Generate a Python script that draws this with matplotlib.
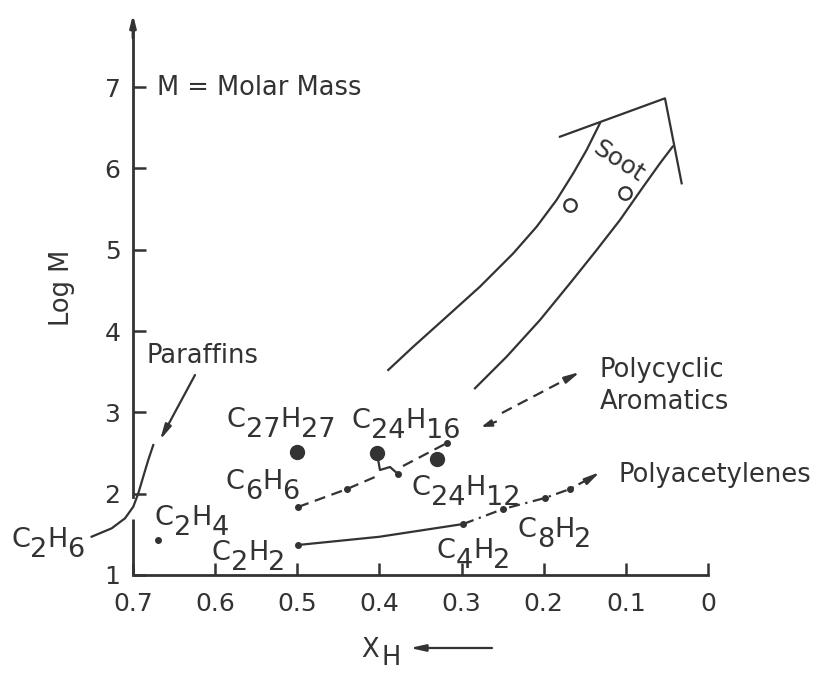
import re
import matplotlib
matplotlib.use('Agg')
import matplotlib.pyplot as plt

plt.rcParams['font.family'] = ['DejaVu Sans']
INK = '#333333'

# ---------------- data ----------------
x_ticks = [0.7, 0.6, 0.5, 0.4, 0.3, 0.2, 0.1, 0.0]
x_tick_labels = ['0.7', '0.6', '0.5', '0.4', '0.3', '0.2', '0.1', '0']
y_ticks = [1, 2, 3, 4, 5, 6, 7]
y_tick_labels = ['1', '2', '3', '4', '5', '6', '7']

# paraffin curve
paraffin_x = [0.7503, 0.7259, 0.7097, 0.6996, 0.6935, 0.6875, 0.6814, 0.6753]
paraffin_y = [1.471, 1.574, 1.697, 1.840, 2.005, 2.209, 2.414, 2.598]
paraffin_arrow_tail = (0.6245, 3.459)
paraffin_arrow_tip = (0.6671, 2.660)

# ethylene point
c2h4_x = [0.6696]
c2h4_y = [1.43]

# polyacetylenes
polyacet_solid_x = [0.499, 0.40, 0.298]
polyacet_solid_y = [1.369, 1.47, 1.627]
polyacet_dash_x = [0.298, 0.2495, 0.1984, 0.168, 0.140]
polyacet_dash_y = [1.627, 1.811, 1.947, 2.057, 2.21]
polyacet_dots_x = [0.499, 0.298, 0.2495, 0.1984, 0.168]
polyacet_dots_y = [1.369, 1.627, 1.811, 1.947, 2.057]
polyacet_tip = (0.1315, 2.266)

# polycyclic aromatics
arom_a_x = [0.499, 0.4395, 0.4054]
arom_a_y = [1.836, 2.057, 2.205]
arom_kink_x = [0.4030, 0.3993, 0.3871, 0.3774]
arom_kink_y = [2.500, 2.291, 2.328, 2.242]
arom_b_x = [0.3713, 0.3177]
arom_b_y = [2.340, 2.623]
arom_c_x = [0.2508, 0.170]
arom_c_y = [2.992, 3.42]
arom_tip = (0.1558, 3.496)
arom_dots_x = [0.499, 0.4395, 0.3774, 0.3177]
arom_dots_y = [1.836, 2.057, 2.242, 2.623]
arom_mid_tail = (0.258, 2.885)
arom_mid_tip = (0.276, 2.82)

# large molecules (big dots)
big_x = [0.500, 0.403, 0.330]
big_y = [2.512, 2.50, 2.43]

# soot particles
soot_pts_x = [0.168, 0.101]
soot_pts_y = [5.549, 5.693]

# soot band outline
soot_left_x = [0.3892, 0.3588, 0.3181, 0.2776, 0.2370, 0.2085, 0.1843, 0.1640, 0.1477, 0.1315]
soot_left_y = [3.521, 3.807, 4.176, 4.545, 4.955, 5.283, 5.611, 5.939, 6.226, 6.554]
soot_right_x = [0.2836, 0.2451, 0.2045, 0.1680, 0.1355, 0.1071, 0.0787, 0.0584, 0.0430]
soot_right_y = [3.296, 3.684, 4.135, 4.586, 4.996, 5.365, 5.775, 6.062, 6.267]
soot_head_x = [0.1802, 0.0523, 0.0320]
soot_head_y = [6.389, 6.861, 5.816]

# formula labels (name, x, y of baseline-left)
formula_names = ['C2H6', 'C2H4', 'C2H2', 'C6H6', 'C27H27', 'C24H16', 'C24H12', 'C4H2', 'C8H2']
formula_x = [0.8485, 0.6732, 0.6038, 0.5868, 0.5856, 0.4334, 0.3603, 0.3299, 0.2313]
formula_y = [1.344, 1.615, 1.184, 2.057, 2.815, 2.810, 1.984, 1.209, 1.467]

# ---------------- figure ----------------
fig = plt.figure(figsize=(8.24, 6.73), dpi=100)
ax = fig.add_axes([0, 0, 1, 1])
ax.set_xlim(0.8619, -0.1413)
ax.set_ylim(-0.205, 8.070)
ax.patch.set_alpha(0)

for s in ['top', 'right']:
    ax.spines[s].set_visible(False)
ax.spines['left'].set_position(('data', 0.7))
ax.spines['left'].set_bounds(1.96, 7.75)
ax.spines['bottom'].set_position(('data', 1))
ax.spines['bottom'].set_bounds(0.0, 0.7)
for s in ['left', 'bottom']:
    ax.spines[s].set_color(INK)
    ax.spines[s].set_linewidth(2)

ax.set_xticks(x_ticks)
ax.set_xticklabels(x_tick_labels)
ax.set_yticks(y_ticks)
ax.set_yticklabels(y_tick_labels)
ax.tick_params(axis='both', direction='in', length=9, width=1.8, color=INK,
               labelcolor=INK, labelsize=18)
ax.tick_params(axis='y', pad=9)
ax.tick_params(axis='x', pad=12)

# lower part of y axis and arrow head on top
ax.vlines(0.7, 1, 1.69, color=INK, lw=2)
ax.annotate('', xy=(0.7, 7.89), xytext=(0.7, 7.6),
            arrowprops=dict(arrowstyle='-|>,head_length=0.7,head_width=0.18',
                            color=INK, lw=2, shrinkA=0, shrinkB=0))

LW = 1.6
# paraffins
ax.plot(paraffin_x, paraffin_y, color=INK, lw=LW)
ax.annotate('', xy=paraffin_arrow_tip, xytext=paraffin_arrow_tail,
            arrowprops=dict(arrowstyle='-|>,head_length=0.9,head_width=0.2',
                            color=INK, lw=LW, shrinkA=0, shrinkB=0))

ax.plot(c2h4_x, c2h4_y, 'o', color=INK, ms=4)

# polyacetylenes
ax.plot(polyacet_solid_x, polyacet_solid_y, color=INK, lw=LW)
ax.plot(polyacet_dash_x, polyacet_dash_y, color=INK, lw=LW, ls=(0, (5, 2.5, 1, 2.5)))
ax.plot(polyacet_dots_x, polyacet_dots_y, 'o', color=INK, ms=4)
ax.annotate('', xy=polyacet_tip, xytext=(polyacet_dash_x[-1], polyacet_dash_y[-1]),
            arrowprops=dict(arrowstyle='-|>,head_length=0.9,head_width=0.2',
                            color=INK, lw=LW, shrinkA=0, shrinkB=0))

# polycyclic aromatics
dash = (0, (5, 3))
ax.plot(arom_a_x, arom_a_y, color=INK, lw=LW, ls=dash)
ax.plot(arom_kink_x, arom_kink_y, color=INK, lw=LW)
ax.plot(arom_b_x, arom_b_y, color=INK, lw=LW, ls=dash)
ax.plot(arom_c_x, arom_c_y, color=INK, lw=LW, ls=dash)
ax.plot(arom_dots_x, arom_dots_y, 'o', color=INK, ms=4)
ax.annotate('', xy=arom_tip, xytext=(arom_c_x[-1], arom_c_y[-1]),
            arrowprops=dict(arrowstyle='-|>,head_length=0.9,head_width=0.2',
                            color=INK, lw=LW, shrinkA=0, shrinkB=0))
ax.annotate('', xy=arom_mid_tip, xytext=arom_mid_tail,
            arrowprops=dict(arrowstyle='-|>,head_length=0.6,head_width=0.2',
                            color=INK, lw=LW, shrinkA=0, shrinkB=0))

ax.plot(big_x, big_y, 'o', color=INK, ms=10)

# soot band
ax.plot(soot_left_x, soot_left_y, color=INK, lw=LW, solid_joinstyle='round')
ax.plot(soot_right_x, soot_right_y, color=INK, lw=LW, solid_joinstyle='round')
ax.plot(soot_head_x, soot_head_y, color=INK, lw=LW)
ax.plot(soot_pts_x, soot_pts_y, 'o', mfc='none', mec=INK, mew=1.6, ms=9)

# ---------------- text ----------------
TS = 18.5
ax.text(0.6708, 6.902, 'M = Molar Mass', fontsize=TS, color=INK, ha='left', va='baseline')
ax.text(0.7864, 4.53, 'Log M', fontsize=TS, color=INK, rotation=90, ha='center', va='center')
ax.text(0.683, 3.607, 'Paraffins', fontsize=TS, color=INK, ha='left', va='baseline')
ax.text(0.1315, 3.434, 'Polycyclic', fontsize=TS, color=INK, ha='left', va='baseline')
ax.text(0.1315, 3.041, 'Aromatics', fontsize=TS, color=INK, ha='left', va='baseline')
ax.text(0.1083, 2.143, 'Polyacetylenes', fontsize=TS, color=INK, ha='left', va='baseline')
ax.text(0.1089, 6.084, 'Soot', fontsize=18, color=INK, rotation=-33,
        rotation_mode='anchor', ha='center', va='center')

# X_H axis label with arrow
ax.text(0.4115, -0.008, 'X', fontsize=TS, color=INK, ha='center', va='baseline')
ax.text(0.3969, -0.11, 'H', fontsize=TS, color=INK, ha='left', va='baseline')
ax.annotate('', xy=(0.3628, 0.1025), xytext=(0.2629, 0.1025),
            arrowprops=dict(arrowstyle='-|>,head_length=0.9,head_width=0.2',
                            color=INK, lw=LW, shrinkA=0, shrinkB=0))

renderer = fig.canvas.get_renderer()


def formula(x, y, s, size=19.5, drop=7):
    dx = 0.0
    for tok in re.findall(r'[A-Z][a-z]*|\d+', s):
        off = -drop if tok.isdigit() else 0
        t = ax.annotate(tok, xy=(x, y), xytext=(dx, off), textcoords='offset points',
                        fontsize=size, color=INK, ha='left', va='baseline',
                        annotation_clip=False)
        dx += t.get_window_extent(renderer).width * 72 / fig.dpi


for name, fx, fy in zip(formula_names, formula_x, formula_y):
    formula(fx, fy, name)

fig.savefig('out.png', dpi=100, facecolor='white')
